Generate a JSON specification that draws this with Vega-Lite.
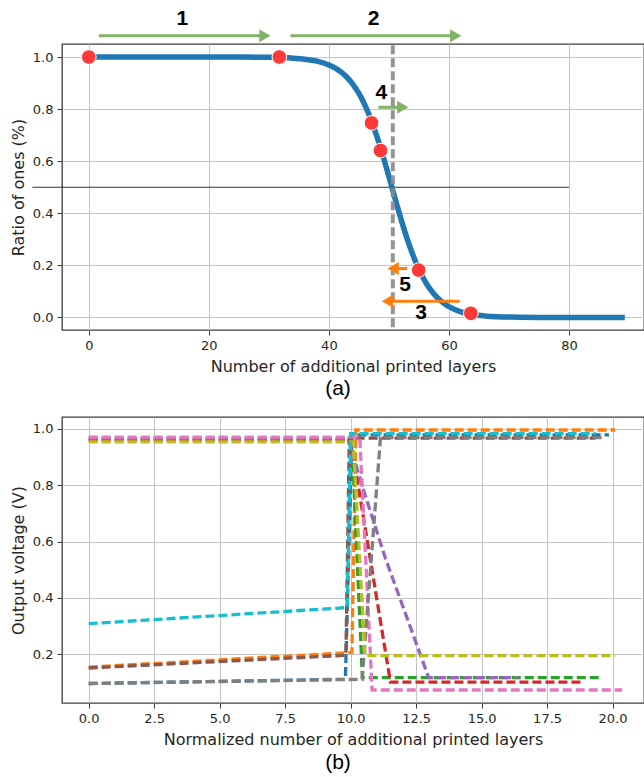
{
  "$schema": "https://vega.github.io/schema/vega-lite/v6.json",
  "padding": {"left": 9, "top": 7, "right": 0, "bottom": 0},
  "spacing": 16,
  "background": "white",
  "resolve": {"scale": {"color": "independent", "shape": "independent"}},
  "config": {
    "view": {"stroke": "#3c3c3c", "strokeWidth": 1.3},
    "axis": {
      "labelFont": "DejaVu Sans", "labelFontSize": 13, "labelColor": "#262626",
      "titleFont": "DejaVu Sans", "titleFontSize": 16, "titleFontWeight": "normal", "titleColor": "#262626",
      "gridColor": "#c4c4c4", "gridWidth": 1, "tickColor": "#3c3c3c", "tickSize": 5, "tickWidth": 1,
      "domain": false, "labelPadding": 4, "titlePadding": 6
    }
  },
  "datasets": {
    "curve": [
      {"x": 0, "y": 1}, {"x": 10, "y": 1}, {"x": 20, "y": 0.99996}, {"x": 26, "y": 0.9997},
      {"x": 30, "y": 0.99885}, {"x": 34, "y": 0.9957}, {"x": 36, "y": 0.9917}, {"x": 38, "y": 0.9841},
      {"x": 40, "y": 0.9697}, {"x": 41, "y": 0.9583}, {"x": 42, "y": 0.9429}, {"x": 43, "y": 0.9224},
      {"x": 44, "y": 0.8952}, {"x": 45, "y": 0.86}, {"x": 46, "y": 0.8153}, {"x": 47, "y": 0.7604},
      {"x": 48, "y": 0.6953}, {"x": 49, "y": 0.6213}, {"x": 50, "y": 0.5412}, {"x": 51, "y": 0.4588},
      {"x": 52, "y": 0.3787}, {"x": 53, "y": 0.3047}, {"x": 54, "y": 0.2396}, {"x": 55, "y": 0.1847},
      {"x": 56, "y": 0.14}, {"x": 57, "y": 0.1048}, {"x": 58, "y": 0.0776}, {"x": 59, "y": 0.0571},
      {"x": 60, "y": 0.0417}, {"x": 62, "y": 0.022}, {"x": 64, "y": 0.0115}, {"x": 66, "y": 0.006},
      {"x": 68, "y": 0.0031}, {"x": 70, "y": 0.0016}, {"x": 75, "y": 0.0003}, {"x": 80, "y": 0},
      {"x": 89.3, "y": 0}
    ],
    "points": [
      {"x": 0, "y": 1}, {"x": 31.75, "y": 1}, {"x": 47.1, "y": 0.747},
      {"x": 48.6, "y": 0.641}, {"x": 54.96, "y": 0.182}, {"x": 63.65, "y": 0.016}
    ],
    "arrows": [
      {"x": 1.67, "x2": 29.34, "y": 1.0816, "d": "right"},
      {"x": 33.6, "x2": 61.14, "y": 1.0816, "d": "right"},
      {"x": 48.25, "x2": 52.31, "y": 0.807, "d": "right"},
      {"x": 53.05, "x2": 50.71, "y": 0.188, "d": "left"},
      {"x": 61.8, "x2": 49.74, "y": 0.0625, "d": "left"}
    ],
    "heads": [
      {"x": 29.34, "y": 1.0816, "d": "right"},
      {"x": 61.14, "y": 1.0816, "d": "right"},
      {"x": 52.31, "y": 0.807, "d": "right"},
      {"x": 50.71, "y": 0.188, "d": "left"},
      {"x": 49.74, "y": 0.0625, "d": "left"}
    ],
    "labels": [
      {"x": 15.57, "y": 1.147, "t": "1"},
      {"x": 47.43, "y": 1.147, "t": "2"},
      {"x": 55.35, "y": 0.017, "t": "3"},
      {"x": 48.73, "y": 0.862, "t": "4"},
      {"x": 52.7, "y": 0.124, "t": "5"}
    ],
    "vline": [{"x": 50.65, "y": -0.037, "y2": 1.05}],
    "hline": [{"x": -9.4, "x2": 80, "y": 0.5}],
    "volt": [
      {"s": "s0", "x": 0, "y": 0.097}, {"s": "s0", "x": 9.8, "y": 0.112}, {"s": "s0", "x": 10.05, "y": 0.978}, {"s": "s0", "x": 19.86, "y": 0.978},
      {"s": "s1", "x": 0, "y": 0.155}, {"s": "s1", "x": 10.05, "y": 0.207}, {"s": "s1", "x": 10.2, "y": 0.995}, {"s": "s1", "x": 20.1, "y": 0.995},
      {"s": "s2", "x": 0, "y": 0.958}, {"s": "s2", "x": 10.05, "y": 0.958}, {"s": "s2", "x": 10.45, "y": 0.118}, {"s": "s2", "x": 19.54, "y": 0.118},
      {"s": "s3", "x": 0, "y": 0.962}, {"s": "s3", "x": 10.0, "y": 0.962}, {"s": "s3", "x": 11.52, "y": 0.102}, {"s": "s3", "x": 18.81, "y": 0.102},
      {"s": "s4", "x": 0, "y": 0.965}, {"s": "s4", "x": 9.9, "y": 0.965}, {"s": "s4", "x": 10.5, "y": 0.78}, {"s": "s4", "x": 11.33, "y": 0.54}, {"s": "s4", "x": 12.98, "y": 0.118}, {"s": "s4", "x": 16.4, "y": 0.118},
      {"s": "s5", "x": 0, "y": 0.152}, {"s": "s5", "x": 9.82, "y": 0.197}, {"s": "s5", "x": 9.95, "y": 0.966}, {"s": "s5", "x": 19.35, "y": 0.966},
      {"s": "s6", "x": 0, "y": 0.97}, {"s": "s6", "x": 10.35, "y": 0.97}, {"s": "s6", "x": 10.82, "y": 0.074}, {"s": "s6", "x": 20.37, "y": 0.074},
      {"s": "s7", "x": 0, "y": 0.097}, {"s": "s7", "x": 10.44, "y": 0.112}, {"s": "s7", "x": 11.14, "y": 0.968}, {"s": "s7", "x": 19.6, "y": 0.968},
      {"s": "s8", "x": 0, "y": 0.953}, {"s": "s8", "x": 10.1, "y": 0.953}, {"s": "s8", "x": 10.55, "y": 0.196}, {"s": "s8", "x": 20.1, "y": 0.196},
      {"s": "s9", "x": 0, "y": 0.309}, {"s": "s9", "x": 9.87, "y": 0.366}, {"s": "s9", "x": 10.0, "y": 0.982}, {"s": "s9", "x": 19.35, "y": 0.982}
    ]
  },
  "vconcat": [
    {
      "width": 582,
      "height": 286,
      "title": {"text": "(a)", "orient": "bottom", "anchor": "middle", "font": "Liberation Sans", "fontSize": 21, "fontWeight": "normal", "color": "#000000", "offset": 4, "dx": -15},
      "encoding": {
        "x": {"field": "x", "type": "quantitative", "scale": {"domain": [-4.465, 92.5], "nice": false, "zero": false},
              "axis": {"title": "Number of additional printed layers", "values": [0, 20, 40, 60, 80], "format": "d"}},
        "y": {"field": "y", "type": "quantitative", "scale": {"domain": [-0.048, 1.05], "nice": false, "zero": false},
              "axis": {"title": "Ratio of ones (%)", "values": [0, 0.2, 0.4, 0.6, 0.8, 1.0], "format": ".1f"}}
      },
      "layer": [
        {
          "data": {"name": "hline"},
          "mark": {"type": "rule", "color": "#333333", "strokeWidth": 1.2},
          "encoding": {"x2": {"field": "x2"}}
        },
        {
          "data": {"name": "curve"},
          "mark": {"type": "line", "color": "#1f77b4", "strokeWidth": 5.5, "interpolate": "monotone"}
        },
        {
          "data": {"name": "vline"},
          "mark": {"type": "rule", "color": "#8a8a8a", "strokeWidth": 4, "strokeDash": [9, 4], "opacity": 0.9},
          "encoding": {"y2": {"field": "y2"}}
        },
        {
          "data": {"name": "points"},
          "mark": {"type": "point", "filled": true, "size": 215, "color": "#ff3838", "stroke": "#ffffff", "strokeWidth": 1, "opacity": 1}
        },
        {
          "data": {"name": "arrows"},
          "mark": {"type": "rule", "strokeWidth": 3},
          "encoding": {
            "x2": {"field": "x2"},
            "color": {"field": "d", "type": "nominal", "scale": {"domain": ["right", "left"], "range": ["#82b366", "#ff7f0e"]}, "legend": null}
          }
        },
        {
          "data": {"name": "heads"},
          "mark": {"type": "point", "filled": true, "size": 170, "opacity": 1},
          "encoding": {
            "shape": {"field": "d", "type": "nominal", "scale": {"domain": ["right", "left"], "range": ["triangle-right", "triangle-left"]}, "legend": null},
            "color": {"field": "d", "type": "nominal", "scale": {"domain": ["right", "left"], "range": ["#82b366", "#ff7f0e"]}, "legend": null}
          }
        },
        {
          "data": {"name": "labels"},
          "mark": {"type": "text", "font": "Liberation Sans", "fontSize": 21, "fontWeight": "bold", "color": "#000000", "align": "center", "baseline": "middle"},
          "encoding": {"text": {"field": "t", "type": "nominal"}}
        }
      ]
    },
    {
      "width": 582,
      "height": 286,
      "title": {"text": "(b)", "orient": "bottom", "anchor": "middle", "font": "Liberation Sans", "fontSize": 21, "fontWeight": "normal", "color": "#000000", "offset": 5, "dx": -15},
      "data": {"name": "volt"},
      "mark": {"type": "line", "strokeWidth": 3.3, "strokeDash": [9, 4]},
      "encoding": {
        "x": {"field": "x", "type": "quantitative", "scale": {"domain": [-1.0185, 21.2], "nice": false, "zero": false},
              "axis": {"title": "Normalized number of additional printed layers", "values": [0, 2.5, 5, 7.5, 10, 12.5, 15, 17.5, 20], "format": ".1f"}},
        "y": {"field": "y", "type": "quantitative", "scale": {"domain": [0.028, 1.041], "nice": false, "zero": false},
              "axis": {"title": "Output voltage (V)", "values": [0.2, 0.4, 0.6, 0.8, 1.0], "format": ".1f"}},
        "color": {"field": "s", "type": "nominal",
                  "scale": {"domain": ["s0", "s1", "s2", "s3", "s4", "s5", "s6", "s7", "s8", "s9"],
                            "range": ["#1f77b4", "#ff7f0e", "#2ca02c", "#d62728", "#9467bd", "#8c564b", "#e377c2", "#7f7f7f", "#bcbd22", "#17becf"]},
                  "legend": null}
      }
    }
  ]
}
